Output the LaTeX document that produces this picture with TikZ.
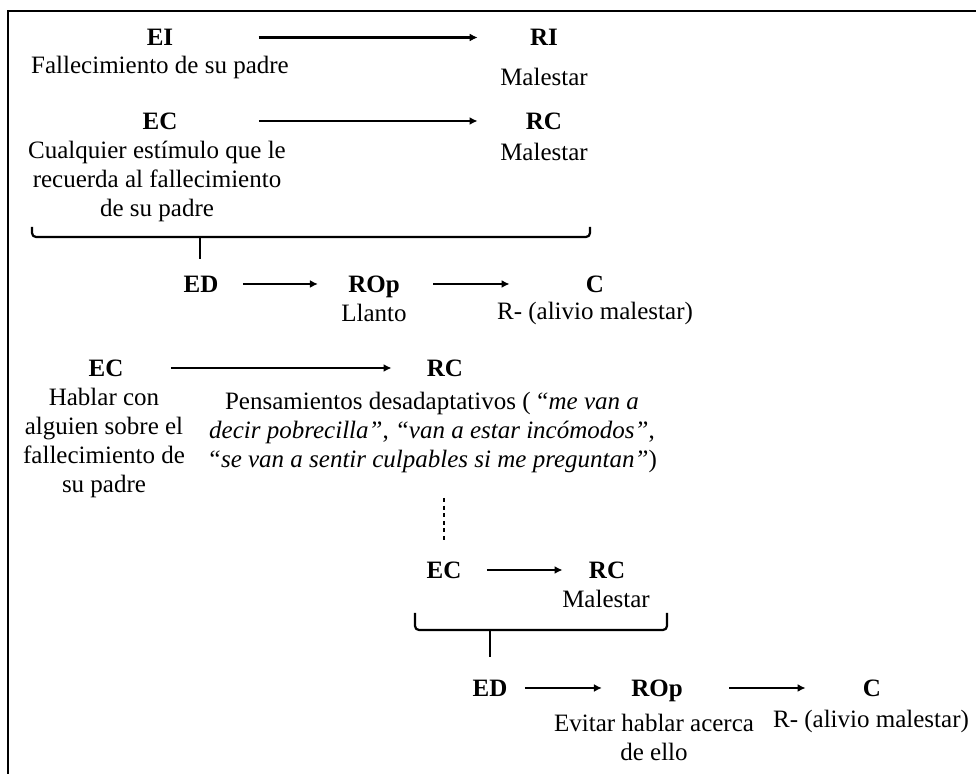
\documentclass[tikz,border=0pt]{standalone}
\usepackage{fontspec}
\setmainfont{Liberation Serif}
\usetikzlibrary{arrows.meta}

\begin{document}
\begin{tikzpicture}[x=0.5pt,y=-0.5pt,
  font=\fontsize{12.5}{14.5}\selectfont,
  every node/.style={inner sep=0pt},
  lab/.style={font=\fontsize{12.5}{14.5}\selectfont\bfseries,text height=8.3pt,text depth=0pt},
  txt/.style={align=center},
  arr/.style={-{Latex[length=4pt,width=4pt]},line width=1.1pt},
  brk/.style={line width=1.1pt,rounded corners=2pt}]
\useasboundingbox (0,0) rectangle (976,774);
\draw[line width=1.4pt] (976,11) -- (8,11) -- (8,774);
% first part
\node[lab] (ei) at (160,37.5) {EI};
\node (tei) at (160,67) {Fallecimiento de su padre};
\node[lab] (ri) at (544,37.5) {RI};
\node (tri) at (544,77) {Malestar};
\node[lab] (ec1) at (160,121) {EC};
\node[txt] (tec1) at (157,181) {Cualquier estímulo que le\\recuerda al fallecimiento\\de su padre};
\node[lab] (rc1) at (544,121) {RC};
\node (trc1) at (544,152) {Malestar};
\draw[brk] (32,227) -- (32,237) -- (590,237) -- (590,227);
\draw[brk] (200,237) -- (200,259);
\node[lab] (ed1) at (201,284) {ED};
\node[lab] (rop1) at (374,284) {ROp};
\node (trop1) at (374,313) {Llanto};
\node[lab] (c1) at (595,284) {C};
\node (tc1) at (595,313) {R- (alivio malestar)};
% second part
\node[lab] (ec2) at (106,368) {EC};
\node[txt] (tec2) at (104,443) {Hablar con\\alguien sobre el\\fallecimiento de\\su padre};
\node[lab] (rc2) at (445,368) {RC};
\node[txt] (trc2) at (432,432) {Pensamientos desadaptativos (\,\textit{“me van a}\\\textit{decir pobrecilla”}, \textit{“van a estar incómodos”},\\\textit{“se van a sentir culpables si me preguntan”})};
\node[lab] (ec3) at (444,570) {EC};
\coordinate (dtop) at (444,498);
\draw[line width=1.1pt,dash pattern=on 2pt off 1.8pt,shorten >=9pt] (dtop) -- (ec3.north);
\node[lab] (rc3) at (607,570) {RC};
\node (trc3) at (606,599) {Malestar};
\draw[brk] (415,613) -- (415,630) -- (667,630) -- (667,613);
\draw[brk] (490,630) -- (490,657);
\node[lab] (ed2) at (490,688) {ED};
\node[lab] (rop2) at (657,688) {ROp};
\node[txt] (trop2) at (654,737) {Evitar hablar acerca\\de ello};
\node[lab] (c2) at (872,688) {C};
\node (tc2) at (871,721) {R- (alivio malestar)};
\foreach \a/\b/\s/\e in {ei/ri/42.5pt/26pt, ec1/rc1/40.5pt/24pt, ed1/rop1/12pt/15pt,
    rop1/c1/16.5pt/38pt, ec2/rc2/23.5pt/17.5pt, ec3/rc3/12.5pt/13pt,
    ed2/rop2/8.5pt/14.5pt, rop2/c2/23pt/28.5pt}
  \draw[arr,shorten <=\s,shorten >=\e] (\a) -- (\b);
\end{tikzpicture}
\end{document}
